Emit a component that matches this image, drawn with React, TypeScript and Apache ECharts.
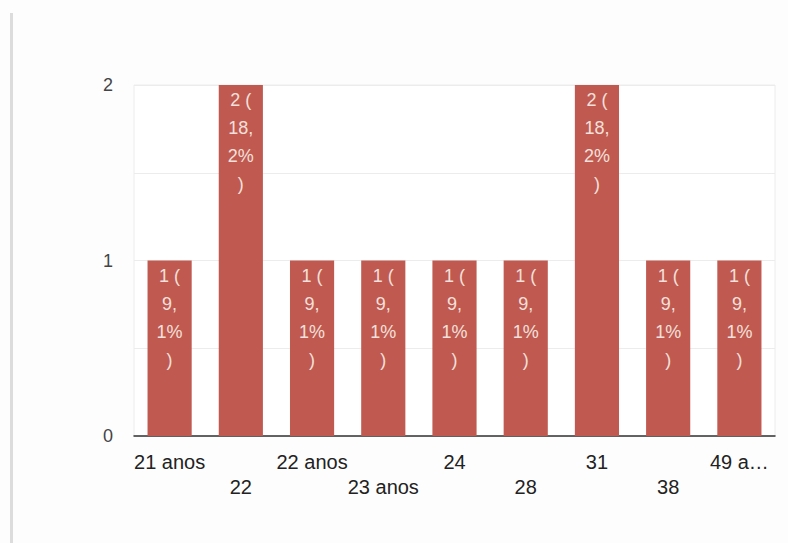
import React, { useEffect, useRef } from "react";
import * as echarts from "echarts";

const categories = ["21 anos", "22", "22 anos", "23 anos", "24", "28", "31", "38", "49 a…"];
const counts = [1, 2, 1, 1, 1, 1, 2, 1, 1];
const percents = ["9,\n1%", "18,\n2%", "9,\n1%", "9,\n1%", "9,\n1%", "9,\n1%", "18,\n2%", "9,\n1%", "9,\n1%"];
const yTicks = [0, 1, 2];

export default function App() {
  const ref = useRef<HTMLDivElement>(null);
  useEffect(() => {
    if (!ref.current) return;
    const chart = echarts.init(ref.current, undefined, { renderer: "svg" });
    const font = "Arial, 'Liberation Sans', sans-serif";
    chart.setOption({
      animation: false,
      backgroundColor: "#fdfdfd",
      graphic: [
        { type: "rect", shape: { x: 10, y: 13, width: 3, height: 530 }, style: { fill: "#dcdcdc" } },
      ],
      grid: { left: 134, right: 13, top: 85, bottom: 107, show: true, borderColor: "#ececec", borderWidth: 1, backgroundColor: "#ffffff" },
      xAxis: {
        type: "category",
        data: categories,
        axisLine: { lineStyle: { color: "#333", width: 1.5 } },
        axisTick: { show: false },
        axisLabel: {
          interval: 0,
          margin: 13,
          fontSize: 20,
          lineHeight: 25,
          color: "#222",
          fontFamily: font,
          formatter: (v: string, i: number) => (i % 2 === 1 ? "\n" + v : v),
        },
      },
      yAxis: {
        type: "value",
        min: 0,
        max: 2,
        interval: 0.5,
        axisLine: { show: false },
        axisTick: { show: false },
        splitLine: { lineStyle: { color: "#ececec" } },
        axisLabel: {
          margin: 21,
          fontSize: 18,
          color: "#444",
          fontFamily: font,
          formatter: (v: number) => (yTicks.includes(v) ? String(v) : ""),
        },
      },
      series: [
        {
          type: "bar",
          data: counts,
          barWidth: "62%",
          itemStyle: { color: "#c0594f" },
          label: {
            show: true,
            position: "insideTop",
            distance: 1,
            color: "#f4e0dc",
            fontSize: 18,
            lineHeight: 28,
            fontFamily: font,
            formatter: (p: any) => `${counts[p.dataIndex]} (\n${percents[p.dataIndex]}\n)`,
          },
        },
      ],
    });
    return () => chart.dispose();
  }, []);
  return <div ref={ref} style={{ position: "fixed", left: 0, top: 0, width: 788, height: 543 }} />;
}
